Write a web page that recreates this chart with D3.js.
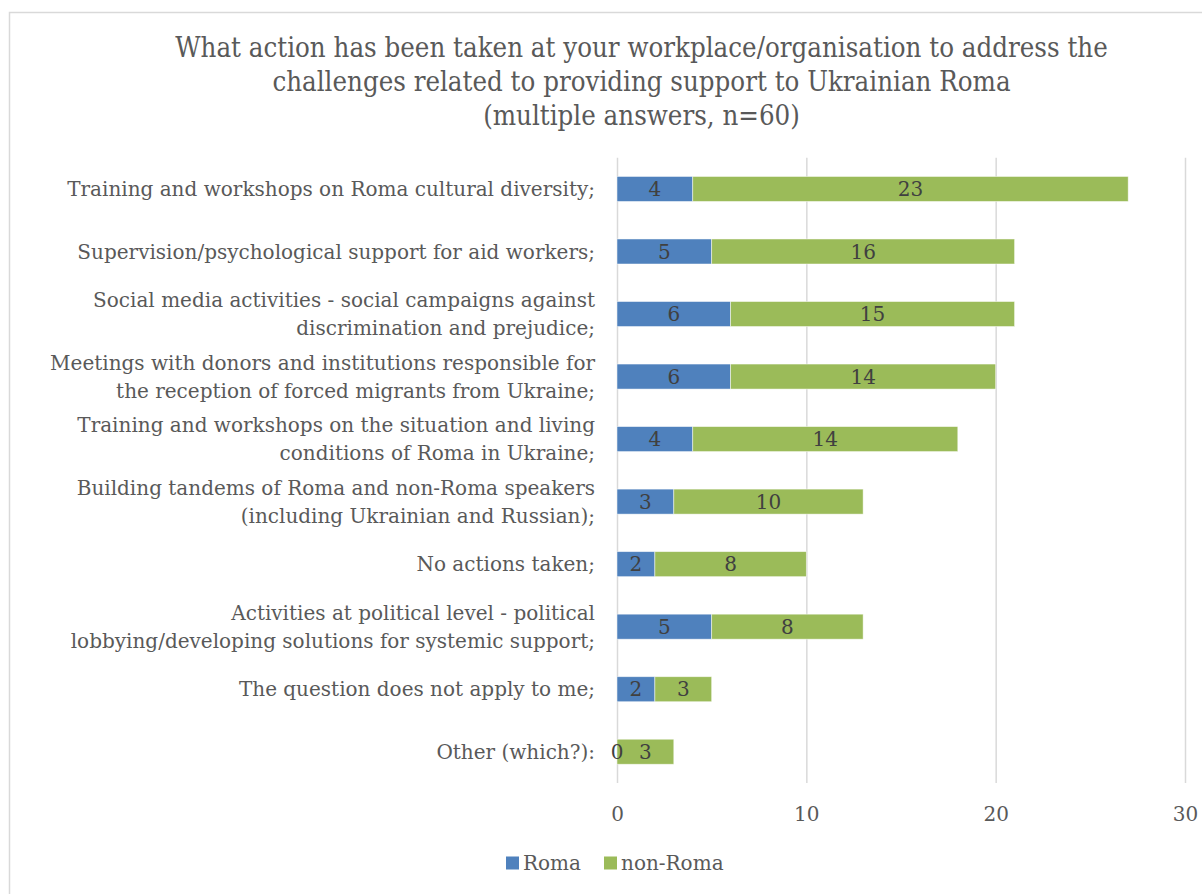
<!DOCTYPE html>
<html>
<head>
<meta charset="utf-8">
<script src="https://cdn.jsdelivr.net/npm/d3@7"></script>
<style>
  html, body { margin: 0; padding: 0; background: #fff; }
  svg { display: block; }
  text { font-family: "DejaVu Serif", "Liberation Serif", serif; }
</style>
</head>
<body>
<svg id="chart" width="1202" height="894"></svg>
<script>
// Survey answers, top to bottom as displayed
const categories = [
  "Training and workshops on Roma cultural diversity;",
  "Supervision/psychological support for aid workers;",
  "Social media activities - social campaigns against\ndiscrimination and prejudice;",
  "Meetings with donors and institutions responsible for\nthe reception of forced migrants from Ukraine;",
  "Training and workshops on the situation and living\nconditions of Roma in Ukraine;",
  "Building tandems of Roma and non-Roma speakers\n(including Ukrainian and Russian);",
  "No actions taken;",
  "Activities at political level - political\nlobbying/developing solutions for systemic support;",
  "The question does not apply to me;",
  "Other (which?):"
];
const romaValues    = [4, 5, 6, 6, 4, 3, 2, 5, 2, 0];
const nonRomaValues = [23, 16, 15, 14, 14, 10, 8, 8, 3, 3];
const seriesNames = ["Roma", "non-Roma"];
const seriesColors = ["#4F81BD", "#9BBB59"];
const xTicks = [0, 10, 20, 30];
const titleLines = [
  "What action has been taken at your workplace/organisation to address the",
  "challenges related to providing support to Ukrainian Roma",
  "(multiple answers, n=60)"
];

const svg = d3.select("#chart");

// chart frame
svg.append("rect")
  .attr("x", 9.5).attr("y", 12.5)
  .attr("width", 1400).attr("height", 1000)
  .attr("fill", "none").attr("stroke", "#d9d9d9").attr("stroke-width", 1.5);

// plot area
const plot = { left: 617, right: 1185, top: 157.7, bottom: 783 };

const x = d3.scaleLinear().domain([0, 30]).range([plot.left, plot.right]);
const y = d3.scaleBand()
  .domain(d3.range(categories.length))
  .range([plot.top, plot.bottom])
  .paddingInner(0.6).paddingOuter(0.3);

// vertical gridlines
const grid = svg.append("g")
  .attr("transform", `translate(0,${plot.bottom})`)
  .call(d3.axisBottom(x).tickValues(xTicks).tickSize(-(plot.bottom - plot.top)).tickFormat(""));
grid.select(".domain").remove();
grid.selectAll("line").attr("stroke", "#d9d9d9").attr("stroke-width", 1.5);

// x tick labels
const xAxis = svg.append("g")
  .attr("transform", `translate(0,${plot.bottom})`)
  .call(d3.axisBottom(x).tickValues(xTicks).tickSize(0).tickPadding(24));
xAxis.select(".domain").remove();
xAxis.selectAll("text")
  .attr("fill", "#595959")
  .style("font-family", "DejaVu Serif")
  .style("font-size", "20px");

// stacked segments
const rows = categories.map((c, i) => ({ i, vals: [romaValues[i], nonRomaValues[i]] }));
const segs = [];
rows.forEach(r => {
  let acc = 0;
  r.vals.forEach((v, s) => {
    segs.push({ row: r.i, s, x0: acc, x1: acc + v, v });
    acc += v;
  });
});

svg.append("g").selectAll("rect")
  .data(segs)
  .join("rect")
  .attr("x", d => x(d.x0))
  .attr("y", d => y(d.row))
  .attr("width", d => x(d.x1) - x(d.x0))
  .attr("height", y.bandwidth())
  .attr("fill", d => seriesColors[d.s])
  .attr("stroke", "#ffffff")
  .attr("stroke-opacity", 0.6)
  .attr("stroke-width", 0.8);

// value labels centred in each segment
svg.append("g").selectAll("text")
  .data(segs)
  .join("text")
  .attr("x", d => (x(d.x0) + x(d.x1)) / 2)
  .attr("y", d => y(d.row) + y.bandwidth() / 2)
  .attr("dy", "0.36em")
  .attr("text-anchor", "middle")
  .attr("fill", "#404040")
  .style("font-size", "20px")
  .text(d => d.v);

// category labels
const catG = svg.append("g");
categories.forEach((c, i) => {
  const lines = c.split("\n");
  const cy = y(i) + y.bandwidth() / 2;
  const lh = 28;
  const t = catG.append("text")
    .attr("text-anchor", "end")
    .attr("fill", "#595959")
    .style("font-size", "20px");
  lines.forEach((ln, k) => {
    t.append("tspan")
      .attr("x", 595)
      .attr("y", cy + (k - (lines.length - 1) / 2) * lh)
      .attr("dy", "0.36em")
      .text(ln);
  });
});

// title, set in a narrowed serif
const titleG = svg.append("g");
const titleText = titleG.selectAll("text")
  .data(titleLines)
  .join("text")
  .attr("x", 0)
  .attr("y", (d, i) => 57 + i * 34)
  .attr("text-anchor", "middle")
  .attr("fill", "#595959")
  .style("font-size", "27px")
  .text(d => d);
const w0 = titleText.nodes()[0].getComputedTextLength();
const sx = 933 / w0;
titleG.attr("transform", `translate(641.5,0) scale(${sx},1)`);

// legend
const legend = svg.append("g").attr("transform", "translate(0,863)");
const legendX = [506, 604];
seriesNames.forEach((n, i) => {
  legend.append("rect")
    .attr("x", legendX[i]).attr("y", -6.5)
    .attr("width", 13).attr("height", 13)
    .attr("fill", seriesColors[i]);
  legend.append("text")
    .attr("x", legendX[i] + 17).attr("y", 0).attr("dy", "0.36em")
    .attr("fill", "#595959")
    .style("font-size", "20px")
    .text(n);
});
</script>
</body>
</html>
